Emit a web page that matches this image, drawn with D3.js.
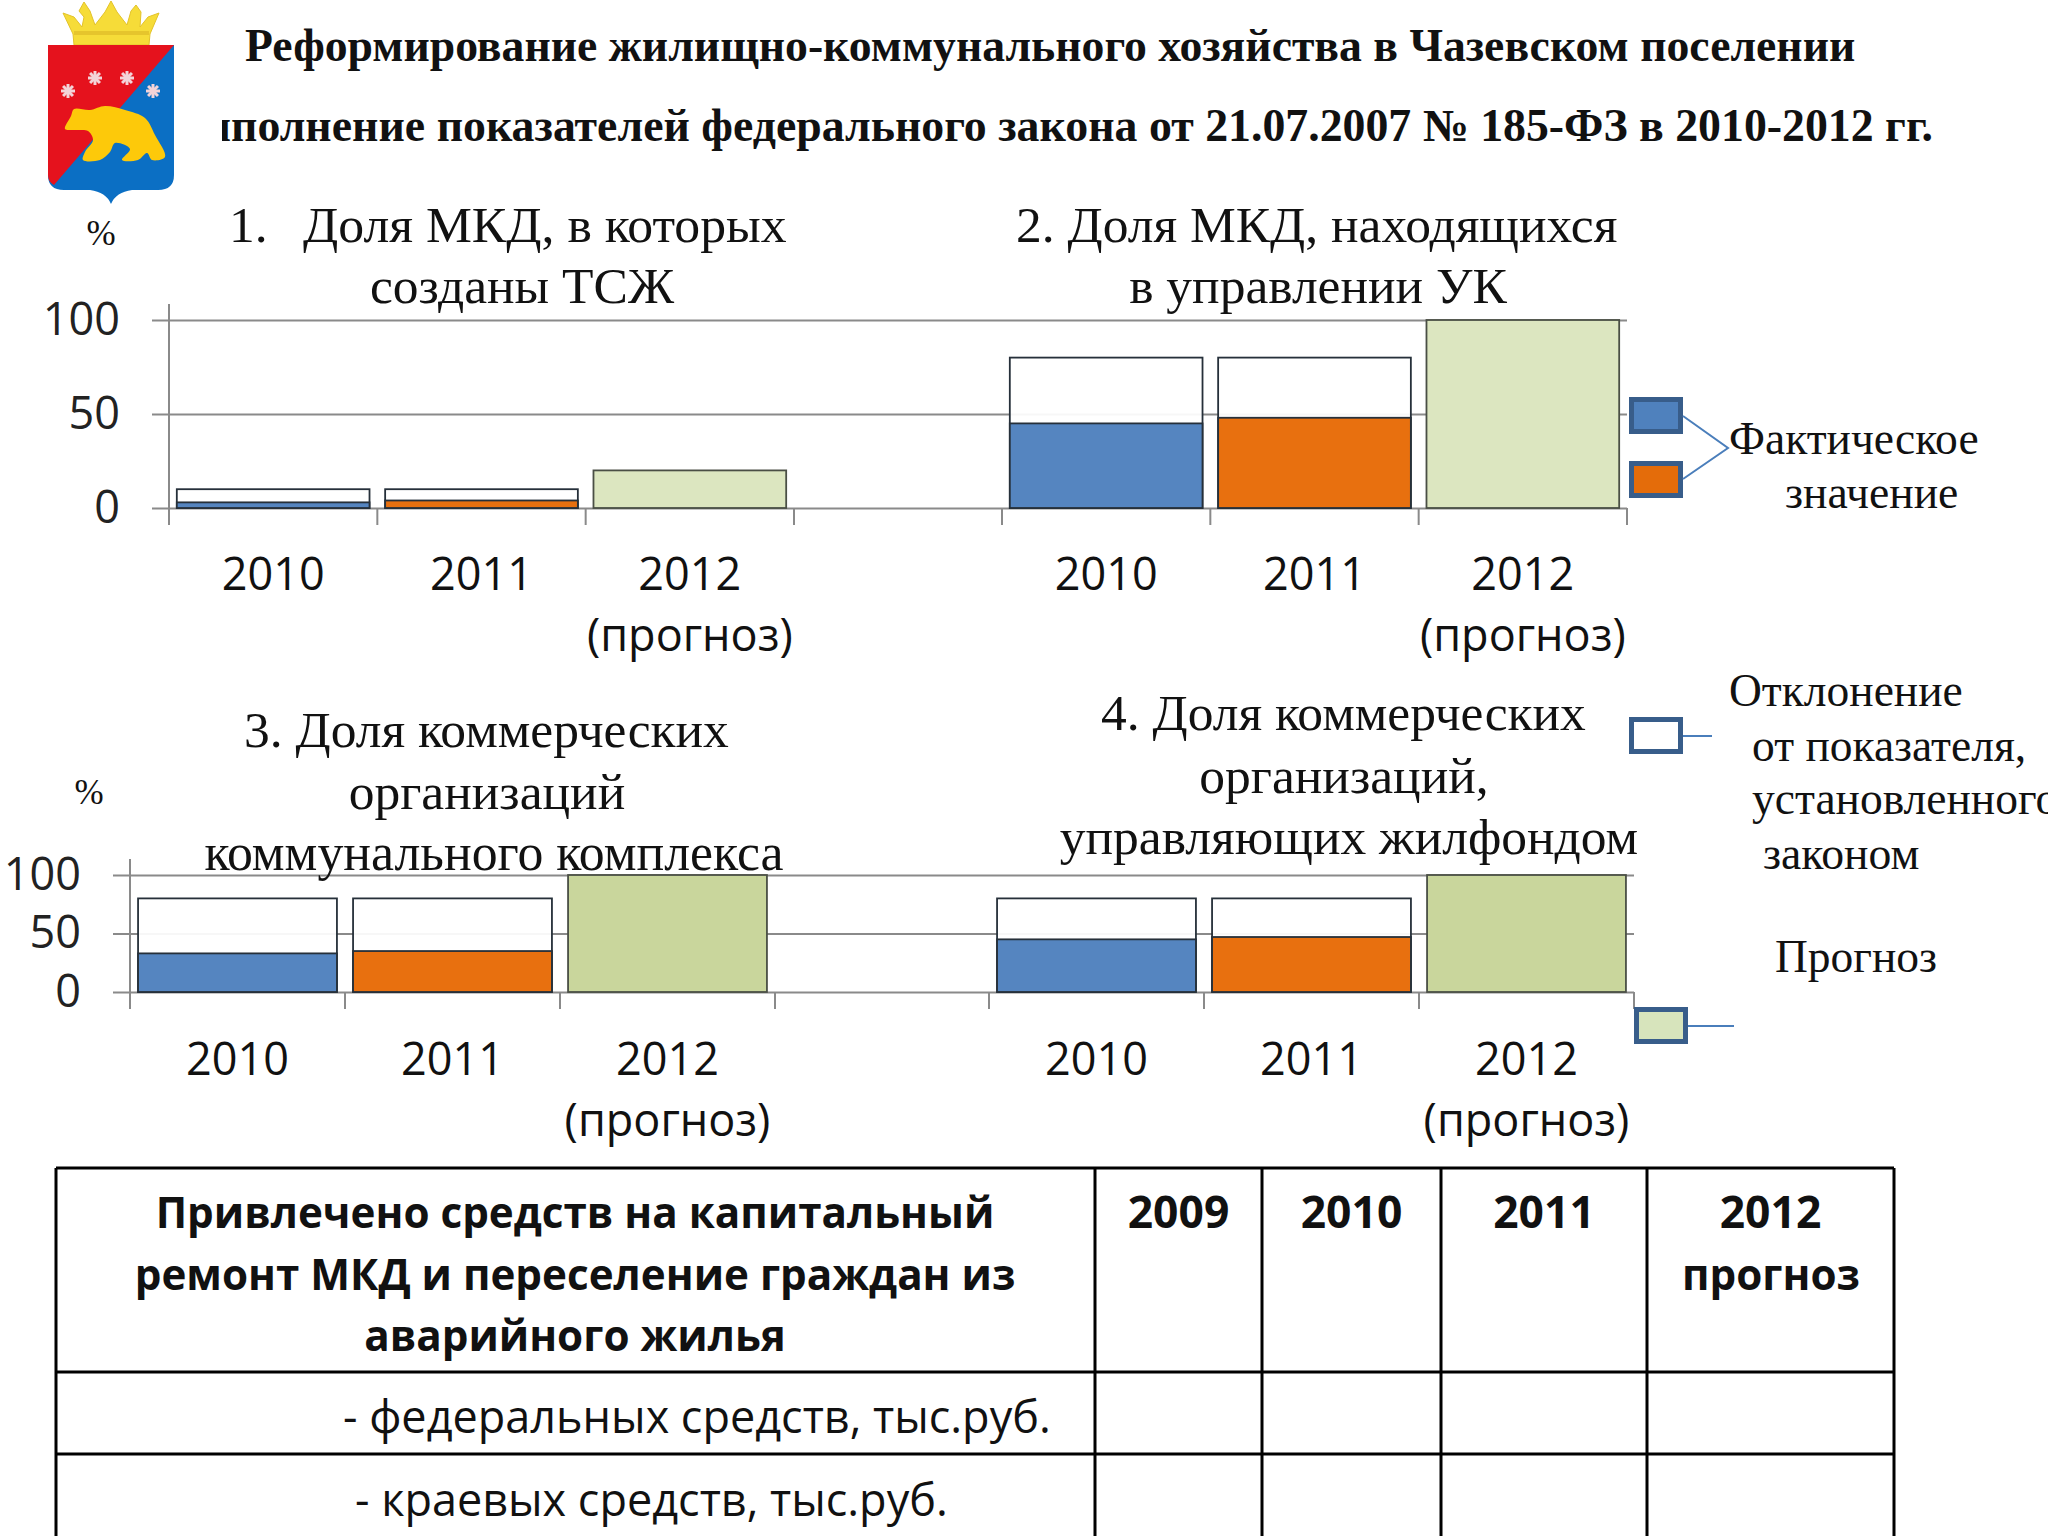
<!DOCTYPE html>
<html>
  <head>
    <meta charset="UTF-8">
    <title>Реформирование ЖКХ</title>
    <script src="https://d3js.org/d3.v7.min.js"></script>
    <style>
      body { margin: 0; background: #fff; }
      svg { display: block; }
      .serif { font-family: "Liberation Serif", serif; fill: #111; }
      .sans { font-family: "Open Sans", sans-serif; fill: #111; }
      .axis text { font-family: "Open Sans", sans-serif; fill: #222; }
    </style>
  </head>
  <body>
    <svg width="2048" height="1536"></svg>

    <script>
const years = ["2010", "2011", "2012"];
const yTicks = [0, 50, 100];

// values, in percent
const fact1 = [3, 4, 0];
const target1 = [10, 10, 0];
const forecast1 = [0, 0, 20];

const fact2 = [45, 48, 0];
const target2 = [80, 80, 0];
const forecast2 = [0, 0, 100];

const fact3 = [33, 35, 0];
const target3 = [80, 80, 0];
const forecast3 = [0, 0, 100];

const fact4 = [45, 47, 0];
const target4 = [80, 80, 0];
const forecast4 = [0, 0, 100];

const tableHead = ["Привлечено средств на капитальный", "ремонт МКД и переселение граждан из", "аварийного жилья"];
const tableYears = ["2009", "2010", "2011", "2012"];
const tableRows = ["- федеральных средств, тыс.руб.", "- краевых средств, тыс.руб."];

const svg = d3.select("svg");
const factColors = ["#5585c0", "#e8700f"];

function label(x, y, text, size, cls, anchor, weight) {
  return svg.append("text")
    .attr("class", cls)
    .attr("x", x).attr("y", y)
    .attr("font-size", size)
    .attr("text-anchor", anchor || "start")
    .attr("font-weight", weight || "normal")
    .text(text);
}

// ---- titles
label(245, 61, "Реформирование жилищно-коммунального хозяйства в Чазевском поселении", 45.7, "serif", "start", "bold");
// the left of the second line is cut off in the original slide
svg.append("clipPath").attr("id", "titleClip")
  .append("rect").attr("x", 222).attr("y", 90).attr("width", 1800).attr("height", 70);
label(1933, 141, "Выполнение показателей федерального закона от 21.07.2007 № 185-ФЗ в 2010-2012 гг.", 45.8, "serif", "end", "bold")
  .attr("clip-path", "url(#titleClip)");

// ---- chart rows
function drawRow(cfg) {
  const y = d3.scaleLinear().domain([0, 100]).range([cfg.y0, cfg.y100]);

  const yAxis = d3.axisLeft(y).tickValues(yTicks).tickSize(cfg.x0 - cfg.x1).tickPadding(22);
  const g = svg.append("g").attr("class", "axis")
    .attr("transform", `translate(${cfg.x0},0)`)
    .call(yAxis);
  g.select(".domain").remove();
  g.selectAll(".tick line")
    .attr("x1", -17).attr("x2", cfg.x1 - cfg.x0)
    .attr("stroke", "#8a8a8a").attr("stroke-width", 2);
  g.selectAll("text").attr("font-size", cfg.tickSize).attr("x", cfg.labelX - cfg.x0);

  svg.append("line")
    .attr("x1", cfg.x0).attr("x2", cfg.x0)
    .attr("y1", cfg.y100 - 16).attr("y2", cfg.y0 + 17)
    .attr("stroke", "#8a8a8a").attr("stroke-width", 2);

  cfg.panels.forEach(p => {
    const x = d3.scaleBand().domain(years).range(p.range).paddingInner(cfg.pad).paddingOuter(cfg.pad / 2);
    const step = x.step();

    // tick marks sit on the band edges
    const edge = d3.scaleLinear().domain([0, 3]).range([p.range[0], p.range[0] + step * 3]);
    svg.append("g").selectAll("line").data(d3.range(4)).join("line")
      .attr("x1", d => edge(d)).attr("x2", d => edge(d))
      .attr("y1", cfg.y0).attr("y2", cfg.y0 + 17)
      .attr("stroke", "#8a8a8a").attr("stroke-width", 2);

    const bars = svg.append("g").attr("stroke", "#26303a").attr("stroke-width", 1.8);
    bars.selectAll("rect.target").data(years.filter((d, i) => p.target[i] > 0)).join("rect")
      .attr("class", "target")
      .attr("x", d => x(d)).attr("width", x.bandwidth())
      .attr("y", d => y(p.target[years.indexOf(d)]))
      .attr("height", d => y(0) - y(p.target[years.indexOf(d)]))
      .attr("fill", "#fff").attr("fill-opacity", 0.93);
    bars.selectAll("rect.fact").data(years.filter((d, i) => p.fact[i] > 0)).join("rect")
      .attr("class", "fact")
      .attr("x", d => x(d)).attr("width", x.bandwidth())
      .attr("y", d => y(p.fact[years.indexOf(d)]))
      .attr("height", d => y(0) - y(p.fact[years.indexOf(d)]))
      .attr("fill", d => factColors[years.indexOf(d)]);
    bars.selectAll("rect.forecast").data(years.filter((d, i) => p.forecast[i] > 0)).join("rect")
      .attr("class", "forecast")
      .attr("x", d => x(d)).attr("width", x.bandwidth())
      .attr("y", d => y(p.forecast[years.indexOf(d)]))
      .attr("height", d => y(0) - y(p.forecast[years.indexOf(d)]))
      .attr("fill", cfg.forecastColor)
      .attr("stroke", "#4a4f45");

    const cx = d => x(d) + x.bandwidth() / 2;
    svg.append("g").selectAll("text").data(years).join("text")
      .attr("class", "sans")
      .attr("x", cx).attr("y", cfg.yearY)
      .attr("text-anchor", "middle").attr("font-size", cfg.tickSize)
      .text(d => d);
    label(cx("2012"), cfg.yearY + 61, "(прогноз)", cfg.tickSize, "sans", "middle");
  });

  // closing tick at the right end
  svg.append("line")
    .attr("x1", cfg.x1).attr("x2", cfg.x1)
    .attr("y1", cfg.y0).attr("y2", cfg.y0 + 17)
    .attr("stroke", "#8a8a8a").attr("stroke-width", 2);
}

drawRow({
  x0: 169, x1: 1627, y0: 508, y100: 320, labelX: 120, tickSize: 45, pad: 0.075, yearY: 590,
  forecastColor: "#dce6c0",
  panels: [
    { range: [169, 794], fact: fact1, target: target1, forecast: forecast1 },
    { range: [1002, 1627], fact: fact2, target: target2, forecast: forecast2 }
  ]
});

drawRow({
  x0: 130, x1: 1634, y0: 992, y100: 875, labelX: 81, tickSize: 45, pad: 0.075, yearY: 1075,
  forecastColor: "#c9d69c",
  panels: [
    { range: [130, 775], fact: fact3, target: target3, forecast: forecast3 },
    { range: [989, 1634], fact: fact4, target: target4, forecast: forecast4 }
  ]
});

// ---- panel titles
label(229, 242, "1.", 51.5, "serif");
label(303, 242, "Доля МКД, в которых", 51.7, "serif");
label(522, 303, "созданы ТСЖ", 51.5, "serif", "middle");
label(1016, 242, "2. Доля МКД, находящихся", 51.5, "serif");
label(1318, 303, "в управлении УК", 51.5, "serif", "middle");
label(244, 747, "3. Доля коммерческих", 51.5, "serif");
label(487, 809, "организаций", 51.5, "serif", "middle");
label(494, 870, "коммунального комплекса", 51.8, "serif", "middle");
label(1101, 730, "4. Доля коммерческих", 51.5, "serif");
label(1344, 793, "организаций,", 51.5, "serif", "middle");
label(1349, 854, "управляющих жилфондом", 51.5, "serif", "middle");
label(101, 245, "%", 35, "serif", "middle");
label(89, 804, "%", 35, "serif", "middle");

// ---- legend
function swatch(x, y, fill) {
  svg.append("rect")
    .attr("x", x + 2.5).attr("y", y + 2.5).attr("width", 49).attr("height", 32)
    .attr("fill", fill).attr("stroke", "#385d8a").attr("stroke-width", 5);
}
swatch(1629, 397, "#4f81bd");
swatch(1629, 461, "#e46c0a");
swatch(1629, 717, "#fff");
swatch(1634, 1007, "#d7e4bc");

svg.append("path")
  .attr("d", d3.line()([[1683, 416], [1728, 448], [1683, 479]]))
  .attr("fill", "none").attr("stroke", "#4a7ebb").attr("stroke-width", 2);
svg.append("path").attr("d", d3.line()([[1683, 736], [1712, 736]])).attr("stroke", "#4a7ebb").attr("stroke-width", 2);
svg.append("path").attr("d", d3.line()([[1688, 1026], [1734, 1026]])).attr("stroke", "#4a7ebb").attr("stroke-width", 2);

label(1729, 453.5, "Фактическое", 45.5, "serif");
label(1785, 507.5, "значение", 45.7, "serif");
label(1729, 705.5, "Отклонение", 45.5, "serif");
label(1752, 760.5, "от показателя,", 45.5, "serif");
label(1752, 814, "установленного", 45.5, "serif");
label(1763, 869, "законом", 45.7, "serif");
label(1775, 971.5, "Прогноз", 45.5, "serif");

// ---- table
const colEdges = [56, 1095, 1262, 1441, 1647, 1894];
const rowEdges = [1168, 1372, 1454, 1536];

const tableGrid = svg.append("g").attr("stroke", "#000").attr("stroke-width", 3);
tableGrid.selectAll("line.v").data(colEdges).join("line").attr("class", "v")
  .attr("x1", d => d).attr("x2", d => d)
  .attr("y1", rowEdges[0]).attr("y2", rowEdges[3]);
tableGrid.selectAll("line.h").data(rowEdges.slice(0, 3)).join("line").attr("class", "h")
  .attr("x1", colEdges[0]).attr("x2", colEdges[5])
  .attr("y1", d => d).attr("y2", d => d);

tableHead.forEach((t, i) => label(575, 1228 + i * 61.5, t, 42.2, "sans", "middle", "bold"));
tableYears.forEach((t, i) => {
  label((colEdges[i + 1] + colEdges[i + 2]) / 2, 1228, t, 44.4, "sans", "middle", "bold");
});
label(1771, 1289.5, "прогноз", 42.2, "sans", "middle", "bold");
label(343, 1433, tableRows[0], 45, "sans");
label(355, 1516, tableRows[1], 45, "sans");

// ---- coat of arms
const crest = svg.append("g");
const lineC = d3.line().curve(d3.curveCatmullRomClosed.alpha(0.5));
crest.append("path")
  .attr("d", "M63,13 L74,17 L82,27 L84,17 L79,11 L84,2 L90,11 L95,25 L105,12 L111,1 L117,12 L127,25 L131,11 L136,5 L141,12 L140,27 L148,17 L159,13 L150,34 L149,45 L74,45 L73,34 Z")
  .attr("fill", "#f6dc38").attr("stroke", "#e3c32a").attr("stroke-width", 1);
crest.append("rect").attr("x", 74).attr("y", 31).attr("width", 75).attr("height", 4).attr("fill", "#e6c52c");
crest.append("path")
  .attr("d", "M48,45 H174 V175 Q174,190 158,190 H132 Q116,192 111,204 Q106,192 90,190 H64 Q48,190 48,175 Z")
  .attr("fill", "#0b6fc4");
crest.append("path")
  .attr("d", "M48,45 H174 L54,185 Q48,182 48,175 Z")
  .attr("fill", "#e5121d");
crest.append("path")
  .attr("d", lineC([[65,129],[71,116],[74,109],[90,110],[105,106],[125,110],[145,118],[155,135],[165,157],[152,160],[147,153],[138,160],[122,160],[130,149],[115,143],[110,152],[100,160],[83,160],[85,152],[93,140],[88,131],[75,130]]))
  .attr("fill", "#fdc90a");
[[68, 91], [95, 78], [127, 78], [153, 91]].forEach(c => {
  d3.range(4).forEach(i => {
    const a = i * Math.PI / 4;
    crest.append("line")
      .attr("x1", c[0] - 7 * Math.cos(a)).attr("y1", c[1] - 7 * Math.sin(a))
      .attr("x2", c[0] + 7 * Math.cos(a)).attr("y2", c[1] + 7 * Math.sin(a))
      .attr("stroke", "#f3d3d8").attr("stroke-width", 3);
  });
});
    </script>
  </body>
</html>
